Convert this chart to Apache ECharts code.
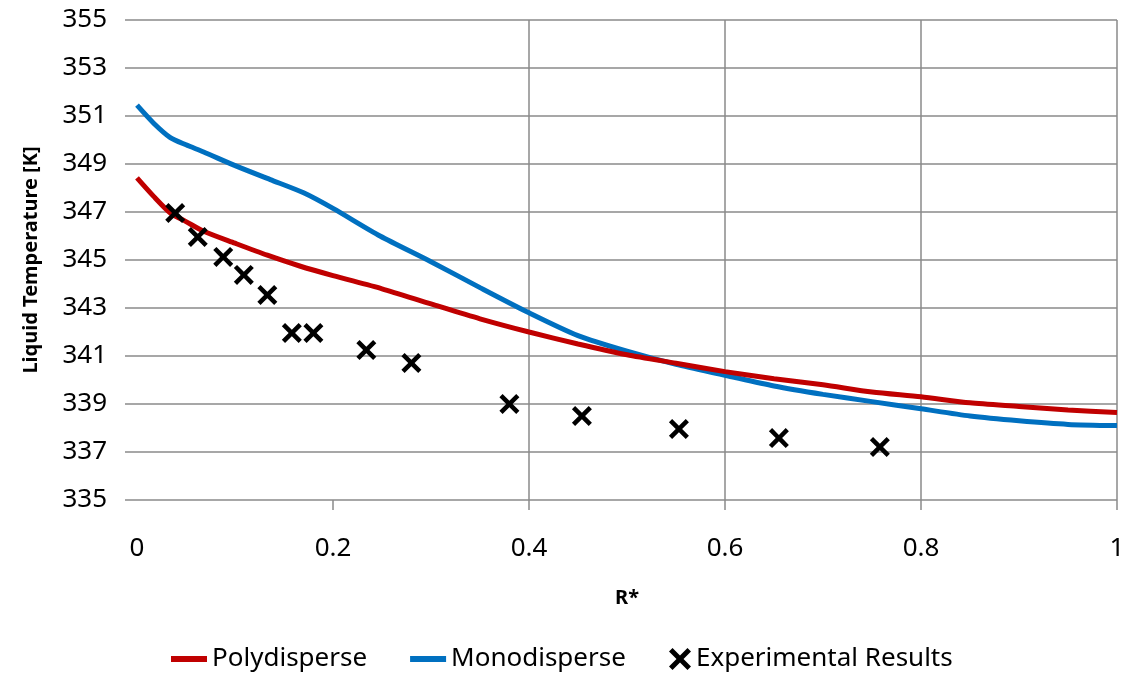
<!DOCTYPE html>
<html>
<head>
<meta charset="utf-8">
<script src="https://cdn.jsdelivr.net/npm/echarts@6/dist/echarts.min.js"></script>
<style>html,body{margin:0;padding:0;background:#fff}#c{width:1136px;height:677px}</style>
</head>
<body>
<div id="c"></div>
<script>
const polyX = [0, 0.017, 0.034, 0.05, 0.068, 0.1, 0.133, 0.166, 0.2, 0.25, 0.3, 0.35, 0.4, 0.45, 0.5, 0.55, 0.6, 0.65, 0.7, 0.75, 0.8, 0.85, 0.9, 0.95, 1.0];
const polyY = [348.42, 347.65, 346.96, 346.6, 346.2, 345.7, 345.2, 344.75, 344.35, 343.8, 343.17, 342.55, 342.0, 341.5, 341.05, 340.7, 340.35, 340.05, 339.8, 339.5, 339.3, 339.05, 338.9, 338.75, 338.65];
const monoX = [0, 0.017, 0.034, 0.05, 0.068, 0.102, 0.136, 0.17, 0.2, 0.248, 0.299, 0.35, 0.4, 0.45, 0.5, 0.55, 0.6, 0.65, 0.7, 0.75, 0.8, 0.85, 0.9, 0.95, 1.0];
const monoY = [351.45, 350.7, 350.1, 349.8, 349.5, 348.9, 348.35, 347.8, 347.15, 346.0, 344.95, 343.85, 342.8, 341.85, 341.2, 340.65, 340.2, 339.75, 339.4, 339.1, 338.8, 338.5, 338.3, 338.15, 338.1];
const expX = [0.039, 0.062, 0.088, 0.109, 0.133, 0.158, 0.180, 0.234, 0.280, 0.380, 0.454, 0.553, 0.655, 0.758];
const expY = [346.96, 345.96, 345.13, 344.38, 343.54, 341.96, 341.96, 341.25, 340.71, 339.0, 338.5, 337.96, 337.58, 337.21];
const yTicks = [335, 337, 339, 341, 343, 345, 347, 349, 351, 353, 355];
const xTicks = [0, 0.2, 0.4, 0.6, 0.8, 1];
const seriesNames = ['Polydisperse', 'Monodisperse', 'Experimental Results'];
const xName = 'R*';
const yName = 'Liquid Temperature [K]';

const zip = (a, b) => a.map((v, i) => [v, b[i]]);
const xPath = 'path://M0,1.6L1.6,0L5,3.4L8.4,0L10,1.6L6.6,5L10,8.4L8.4,10L5,6.6L1.6,10L0,8.4L3.4,5Z';
const gridColor = '#8a8a8a';
const font = 'Noto Sans';

const chart = echarts.init(document.getElementById('c'), null, {renderer: 'canvas'});
chart.setOption({
  animation: false,
  backgroundColor: '#fff',
  textStyle: {fontFamily: font},
  grid: {left: 137, right: 19, top: 20, bottom: 177, containLabel: false},
  xAxis: {
    type: 'value', min: 0, max: 1, interval: 0.2,
    name: xName, nameLocation: 'middle', nameGap: 88,
    nameTextStyle: {fontFamily: font, fontSize: 20, fontWeight: 'bold', color: '#000'},
    axisLine: {show: false},
    axisTick: {show: true, length: 10, customValues: xTicks.slice(1), lineStyle: {color: gridColor, width: 1.5}},
    axisLabel: {margin: 36, fontSize: 26, color: '#000', fontFamily: font},
    splitLine: {show: true, showMinLine: false, lineStyle: {color: gridColor, width: 1.5}}
  },
  yAxis: {
    type: 'value', min: 335, max: 355,
    name: yName, nameLocation: 'middle', nameGap: 96,
    nameTextStyle: {fontFamily: font, fontSize: 20, fontWeight: 'bold', color: '#000'},
    axisLine: {show: false},
    axisTick: {show: true, length: 12, customValues: yTicks, lineStyle: {color: gridColor, width: 1.5}},
    axisLabel: {margin: 30, fontSize: 26, color: '#000', fontFamily: font, customValues: yTicks},
    splitLine: {show: true, lineStyle: {color: gridColor, width: 1.5}}
  },
  legend: [
    {
      data: [seriesNames[0], seriesNames[1]],
      left: 171, top: 646, padding: 0, itemGap: 43,
      icon: 'rect', itemWidth: 36, itemHeight: 6,
      textStyle: {fontSize: 26, color: '#000', fontFamily: font}
    },
    {
      data: [seriesNames[2]],
      left: 669, top: 646, padding: 0,
      icon: xPath, itemWidth: 22, itemHeight: 22,
      itemStyle: {color: '#000', opacity: 1},
      textStyle: {fontSize: 26, color: '#000', fontFamily: font}
    }
  ],
  series: [
    {
      name: seriesNames[0], type: 'line', data: zip(polyX, polyY),
      showSymbol: false, smooth: 0.25,
      lineStyle: {color: '#C00000', width: 5}, itemStyle: {color: '#C00000'}, z: 3
    },
    {
      name: seriesNames[1], type: 'line', data: zip(monoX, monoY),
      showSymbol: false, smooth: 0.25,
      lineStyle: {color: '#0070C0', width: 5}, itemStyle: {color: '#0070C0'}, z: 2
    },
    {
      name: seriesNames[2], type: 'scatter', data: zip(expX, expY),
      symbol: xPath, symbolSize: 20,
      itemStyle: {color: '#000', opacity: 1}, z: 4
    }
  ]
});
</script>
</body>
</html>
